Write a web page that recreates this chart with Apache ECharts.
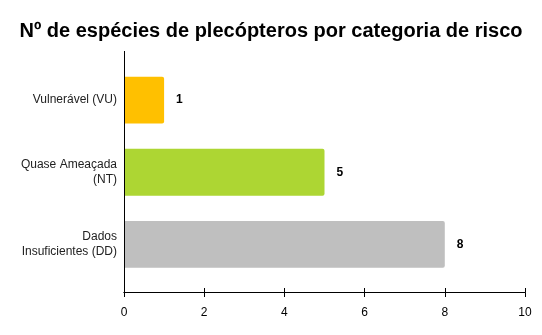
<!DOCTYPE html>
<html><head><meta charset="utf-8">
<script src="https://cdn.jsdelivr.net/npm/echarts@6/dist/echarts.min.js"></script>
<style>html,body{margin:0;padding:0;background:#fff}#c{width:542px;height:335px}</style>
</head><body><div id="c"></div>
<script>
const titleText = 'Nº de espécies de plecópteros por categoria de risco';
const categories = ['Vulnerável (VU)', 'Quase Ameaçada\n(NT)', 'Dados\nInsuficientes (DD)'];
const values = [1, 5, 8];
const colors = ['#FFC000', '#ADD633', '#BFBFBF'];
const xTicks = [0, 2, 4, 6, 8, 10];

const FONT = '"Liberation Sans", Arial, sans-serif';
const gridLeft = 124, gridTop = 64, gridRight = 17, gridBottom = 54.5;
const axisOffset = 12;

const chart = echarts.init(document.getElementById('c'), null, {renderer: 'canvas'});
const xBase = {
  type: 'value', min: xTicks[0], max: xTicks[xTicks.length - 1], interval: 2,
  position: 'bottom', offset: axisOffset,
  axisLine: {show: true, lineStyle: {color: '#000', width: 1}},
  splitLine: {show: false}
};
chart.setOption({
  animation: false,
  title: {text: titleText, left: 'center', top: 16,
    textStyle: {fontFamily: FONT, fontSize: 20, fontWeight: 'bold', color: '#000'}},
  grid: {left: gridLeft, right: gridRight, top: gridTop, bottom: gridBottom, containLabel: false},
  xAxis: [
    Object.assign({}, xBase, {
      axisTick: {show: true, inside: false, length: 4.5, lineStyle: {color: '#000'}},
      axisLabel: {show: true, margin: 14, fontFamily: FONT, fontSize: 12, color: '#000'}
    }),
    Object.assign({}, xBase, {
      axisTick: {show: true, inside: true, length: 4.5, lineStyle: {color: '#000'}},
      axisLabel: {show: false}
    })
  ],
  yAxis: {
    type: 'category', data: categories, inverse: true,
    axisLine: {show: false}, axisTick: {show: false},
    axisLabel: {margin: 7, fontFamily: FONT, fontSize: 12, color: '#222', lineHeight: 15}
  },
  series: [{
    type: 'bar', xAxisIndex: 0,
    data: values.map((v, i) => ({value: v, itemStyle: {color: colors[i]}})),
    barWidth: '65%',
    itemStyle: {borderRadius: [0, 2, 2, 0]},
    label: {show: true, position: 'right', distance: 12, fontFamily: FONT, fontSize: 12,
      fontWeight: 'bold', color: '#000'}
  }]
});
const x0 = chart.convertToPixel({xAxisIndex: 0}, xTicks[0]);
const yBottom = 335 - gridBottom + axisOffset;
chart.setOption({
  graphic: [{type: 'line', shape: {x1: Math.round(x0) + 0.5, y1: 51, x2: Math.round(x0) + 0.5, y2: yBottom},
    style: {stroke: '#000', lineWidth: 1}, z: 10}]
});
</script></body></html>
